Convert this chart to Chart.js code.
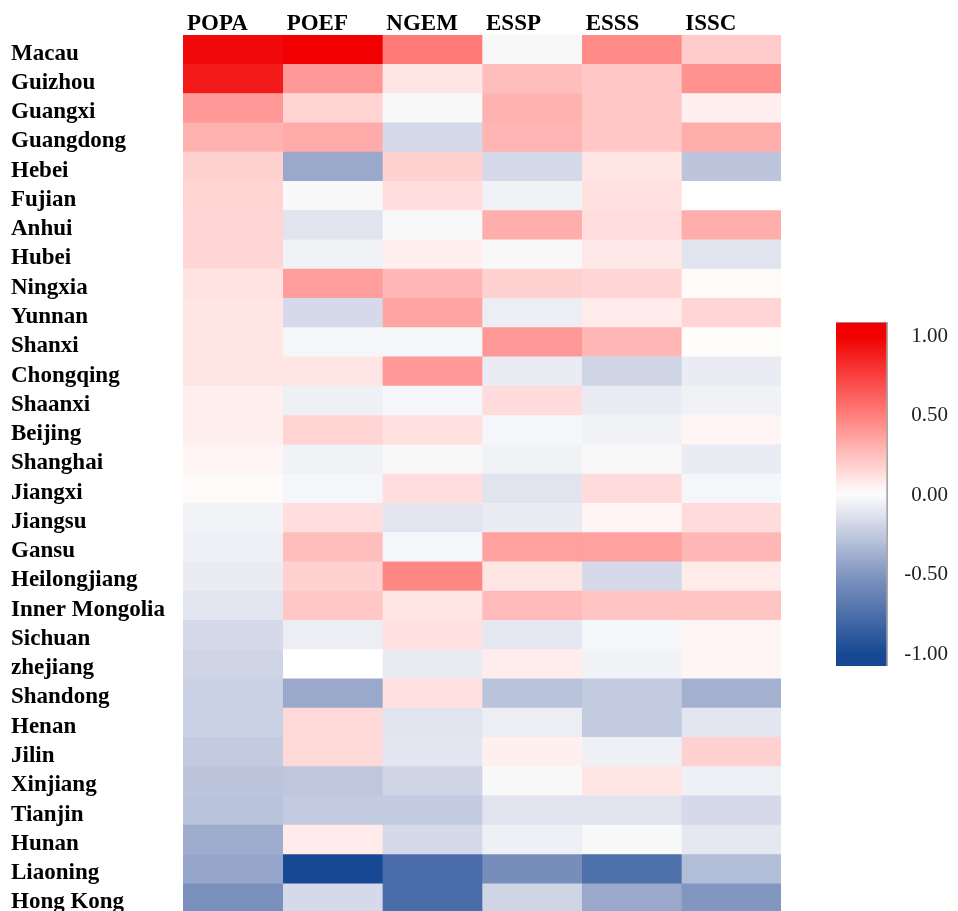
<!DOCTYPE html>
<html>
<head>
<meta charset="utf-8">
<script src="https://cdn.jsdelivr.net/npm/chart.js@4.4.1/dist/chart.umd.min.js"></script>
<style>
  html, body { margin: 0; padding: 0; background: #fff; overflow: hidden; }
  #heat { position: absolute; left: 0; top: 0; }
  #scale { position: absolute; left: 826px; top: 300px; }
</style>
</head>
<body>
<canvas id="heat" width="958" height="913"></canvas>
<canvas id="scale" width="132" height="390"></canvas>
<script>
// --- data ---
const provinces = ['Macau', 'Guizhou', 'Guangxi', 'Guangdong', 'Hebei', 'Fujian', 'Anhui', 'Hubei',
  'Ningxia', 'Yunnan', 'Shanxi', 'Chongqing', 'Shaanxi', 'Beijing', 'Shanghai', 'Jiangxi', 'Jiangsu',
  'Gansu', 'Heilongjiang', 'Inner Mongolia', 'Sichuan', 'zhejiang', 'Shandong', 'Henan', 'Jilin',
  'Xinjiang', 'Tianjin', 'Hunan', 'Liaoning', 'Hong Kong'];
const columns = ['POPA', 'POEF', 'NGEM', 'ESSP', 'ESSS', 'ISSC'];

const popa = [0.97, 0.90, 0.40, 0.30, 0.18, 0.17, 0.16, 0.16, 0.11, 0.10, 0.10, 0.10, 0.06, 0.06, 0.04, 0.02,
  -0.04, -0.06, -0.08, -0.11, -0.17, -0.19, -0.21, -0.21, -0.24, -0.27, -0.28, -0.39, -0.42, -0.54];
const poef = [1.00, 0.40, 0.17, 0.33, -0.41, 0.00, -0.12, -0.05, 0.38, -0.17, -0.03, 0.10, -0.06, 0.17, -0.05, -0.03,
  0.13, 0.26, 0.18, 0.22, -0.07, null, -0.41, 0.15, 0.15, -0.26, -0.24, 0.08, -1.00, -0.17];
const ngem = [0.52, 0.10, 0.00, -0.17, 0.18, 0.13, 0.00, 0.06, 0.28, 0.35, -0.03, 0.40, -0.03, 0.12, 0.00, 0.13,
  -0.11, -0.03, 0.47, 0.10, 0.12, -0.08, 0.12, -0.12, -0.11, -0.19, -0.24, -0.17, -0.76, -0.76];
const essp = [0.00, 0.26, 0.30, 0.29, -0.17, -0.05, 0.32, 0.00, 0.18, -0.07, 0.40, -0.08, 0.14, -0.03, -0.05, -0.12,
  -0.08, 0.37, 0.10, 0.27, -0.10, 0.07, -0.28, -0.07, 0.06, 0.00, -0.12, -0.06, -0.55, -0.19];
const esss = [0.46, 0.22, 0.22, 0.22, 0.10, 0.12, 0.13, 0.09, 0.16, 0.08, 0.28, -0.19, -0.08, -0.05, 0.00, 0.14,
  0.04, 0.37, -0.17, 0.23, -0.03, -0.05, -0.24, -0.24, -0.06, 0.10, -0.12, 0.00, -0.74, -0.41];
const issc = [0.20, 0.43, 0.06, 0.32, -0.27, null, 0.32, -0.12, 0.02, 0.16, 0.01, -0.08, -0.05, 0.04, -0.08, -0.03,
  0.14, 0.28, 0.08, 0.23, 0.04, 0.04, -0.37, -0.11, 0.18, -0.06, -0.17, -0.10, -0.31, -0.50];

const scaleTicks = [-1, -0.5, 0, 0.5, 1];
const scaleMin = -1.075, scaleMax = 1.088;

// --- colour scale (blue - white - red), piecewise stops ---
const colorStops = [
  [-1.00, [22, 72, 148]],
  [-0.50, [130, 150, 192]],
  [-0.15, [218, 221, 235]],
  [0.00, [252, 252, 252]],
  [0.0001, [255, 255, 255]],
  [0.50, [255, 128, 125]],
  [1.00, [240, 0, 0]]
];
function colorRGB(v) {
  v = Math.max(-1, Math.min(1, v));
  let k = 0;
  while (k < colorStops.length - 2 && v > colorStops[k + 1][0]) k++;
  const [v0, c0] = colorStops[k], [v1, c1] = colorStops[k + 1];
  const t = (v - v0) / (v1 - v0);
  const c = c0.map((x, j) => Math.round(x + (c1[j] - x) * t));
  return `rgb(${c[0]},${c[1]},${c[2]})`;
}
function cellColor(v) {
  if (v === null) return '#ffffff';
  if (v === 0) return '#f8f8f8';
  return colorRGB(v);
}

const FONT = "'Liberation Serif', 'Times New Roman', serif";
const series = [popa, poef, ngem, essp, esss, issc];

// --- heatmap: stacked horizontal bars, one dataset per column ---
new Chart(document.getElementById('heat'), {
  type: 'bar',
  data: {
    labels: provinces,
    datasets: series.map((vals, i) => ({
      label: columns[i],
      data: provinces.map(() => 1),
      backgroundColor: vals.map(cellColor),
      borderWidth: 0,
      barPercentage: 1,
      categoryPercentage: 1
    }))
  },
  options: {
    responsive: false,
    animation: false,
    indexAxis: 'y',
    layout: { padding: { left: 11, right: 177, top: 0, bottom: 0 } },
    plugins: { legend: { display: false }, tooltip: { enabled: false } },
    scales: {
      x: {
        position: 'top',
        stacked: true,
        min: 0, max: 6,
        grid: { display: false, drawTicks: false },
        border: { display: false },
        afterBuildTicks: axis => { axis.ticks = columns.map((_, i) => ({ value: i })); },
        afterFit: axis => { axis.height = 35; axis.paddingLeft = 0; axis.paddingRight = 0; },
        ticks: {
          autoSkip: false, maxRotation: 0, align: 'start', labelOffset: 4, padding: -3,
          color: '#000', font: { family: FONT, size: 23, weight: 'bold' },
          callback: (v, i) => columns[i]
        }
      },
      y: {
        stacked: true,
        grid: { display: false, drawTicks: false },
        border: { display: false },
        afterFit: axis => { axis.width = 172; axis.paddingTop = 0; axis.paddingBottom = 0; },
        ticks: {
          autoSkip: false, crossAlign: 'far', padding: 0, labelOffset: 4,
          color: '#000', font: { family: FONT, size: 23, weight: 'bold' }
        }
      }
    }
  }
});

// --- colour bar legend ---
new Chart(document.getElementById('scale'), {
  type: 'bar',
  data: {
    labels: [''],
    datasets: [{
      data: [[scaleMin, scaleMax]],
      barPercentage: 1,
      categoryPercentage: 1,
      borderSkipped: false,
      borderWidth: { top: 1, right: 2, bottom: 0, left: 0 },
      borderColor: '#a8a8a8',
      backgroundColor: ctx => {
        const { chart } = ctx;
        if (!chart.chartArea) return null;
        const ys = chart.scales.y;
        const g = chart.ctx.createLinearGradient(0, ys.getPixelForValue(1), 0, ys.getPixelForValue(-1));
        for (let k = 0; k <= 40; k++) {
          const v = 1 - k / 20;
          g.addColorStop(k / 40, colorRGB(v));
        }
        return g;
      }
    }]
  },
  options: {
    responsive: false,
    animation: false,
    layout: { padding: { left: 10, right: 10, top: 22, bottom: 24 } },
    plugins: { legend: { display: false }, tooltip: { enabled: false } },
    scales: {
      x: { display: false },
      y: {
        position: 'right',
        min: scaleMin, max: scaleMax,
        grid: { display: false, drawTicks: false },
        border: { display: false },
        afterBuildTicks: axis => { axis.ticks = scaleTicks.map(v => ({ value: v })); },
        afterFit: axis => { axis.width = 60; },
        ticks: {
          crossAlign: 'far', padding: 0,
          color: '#222', font: { family: FONT, size: 21 },
          callback: v => v.toFixed(2)
        }
      }
    }
  }
});
</script>
</body>
</html>
